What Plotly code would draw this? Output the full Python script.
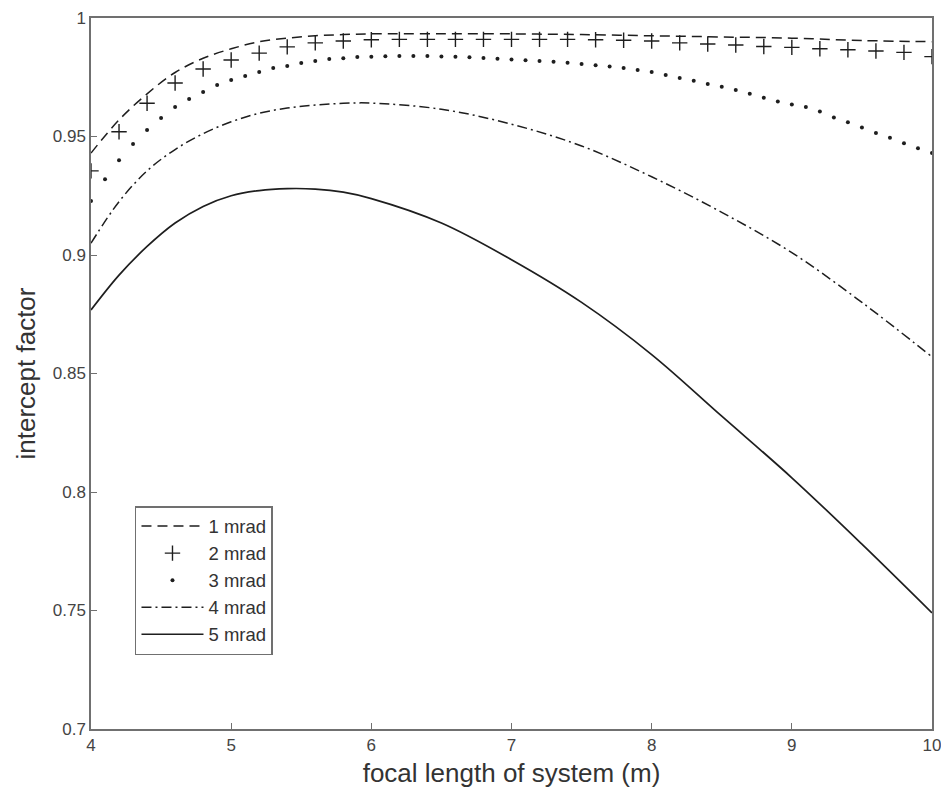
import plotly.graph_objects as go

# ---- data ----
x_line = [4.0, 4.2, 4.4, 4.6, 4.8, 5.0, 5.2, 5.4, 5.6, 5.8, 6.0, 6.5, 7.0, 7.5, 8.0, 8.5, 9.0, 9.5, 10.0]
y_1mrad = [0.943, 0.957, 0.968, 0.977, 0.983, 0.987, 0.990, 0.9915, 0.9925, 0.993, 0.9933,
           0.9934, 0.9933, 0.993, 0.9925, 0.992, 0.9915, 0.9905, 0.990]

x_plus = [4.0, 4.2, 4.4, 4.6, 4.8, 5.0, 5.2, 5.4, 5.6, 5.8, 6.0, 6.2, 6.4, 6.6, 6.8, 7.0,
          7.2, 7.4, 7.6, 7.8, 8.0, 8.2, 8.4, 8.6, 8.8, 9.0, 9.2, 9.4, 9.6, 9.8, 10.0]
y_2mrad = [0.9355, 0.952, 0.964, 0.9726, 0.9785, 0.9823, 0.9852, 0.9878, 0.9895, 0.9903,
           0.9908, 0.991, 0.991, 0.991, 0.991, 0.991, 0.991, 0.991, 0.9908, 0.9906, 0.9903,
           0.9895, 0.989, 0.9886, 0.988, 0.9876, 0.987, 0.9866, 0.9861, 0.9855, 0.9837]

x_dot = [4.0, 4.1, 4.2, 4.3, 4.4, 4.5, 4.6, 4.7, 4.8, 4.9, 5.0, 5.1, 5.2, 5.3, 5.4, 5.5, 5.6,
         5.7, 5.8, 5.9, 6.0, 6.1, 6.2, 6.3, 6.4, 6.5, 6.6, 6.7, 6.8, 6.9, 7.0, 7.1, 7.2, 7.3,
         7.4, 7.5, 7.6, 7.7, 7.8, 7.9, 8.0, 8.1, 8.2, 8.3, 8.4, 8.5, 8.6, 8.7, 8.8, 8.9, 9.0,
         9.1, 9.2, 9.3, 9.4, 9.5, 9.6, 9.7, 9.8, 9.9, 10.0]
y_3mrad = [0.9228, 0.932, 0.940, 0.9468, 0.9527, 0.9578, 0.9624, 0.9658, 0.9688, 0.9717,
           0.9738, 0.9755, 0.9772, 0.9789, 0.9797, 0.981, 0.9819, 0.9827, 0.983, 0.9835,
           0.9837, 0.9839, 0.984, 0.984, 0.984, 0.9838, 0.9836, 0.9834, 0.9831, 0.9828,
           0.9825, 0.9822, 0.9819, 0.9815, 0.9811, 0.9806, 0.9801, 0.9795, 0.9789, 0.9781,
           0.9772, 0.976, 0.9747, 0.9735, 0.9722, 0.971, 0.9696, 0.968, 0.9664, 0.9648,
           0.9635, 0.9624, 0.9605, 0.958, 0.956, 0.9538, 0.9515, 0.9495, 0.9472, 0.945, 0.943]

y_4mrad = [0.905, 0.9225, 0.9355, 0.9445, 0.9512, 0.9562, 0.9598, 0.962, 0.9633, 0.964,
           0.9641, 0.9615, 0.9552, 0.946, 0.933, 0.918, 0.901, 0.880, 0.857]

y_5mrad = [0.8768, 0.8915, 0.9036, 0.9135, 0.9205, 0.925, 0.9272, 0.928, 0.9278, 0.9265,
           0.9238, 0.9135, 0.898, 0.880, 0.858, 0.832, 0.806, 0.778, 0.749]

x_ticks = [4, 5, 6, 7, 8, 9, 10]
y_ticks = [0.7, 0.75, 0.8, 0.85, 0.9, 0.95, 1.0]
y_tick_labels = ["0.7", "0.75", "0.8", "0.85", "0.9", "0.95", "1"]

ink = "#1e1e1e"
font_family = "Liberation Sans, Arial"
fig = go.Figure()
fig.add_trace(go.Scatter(x=x_line, y=y_1mrad, mode="lines", name="1 mrad", line_shape="spline",
                         line=dict(color=ink, width=1.5, dash="10px,6px")))
fig.add_trace(go.Scatter(x=x_plus, y=y_2mrad, mode="markers", name="2 mrad",
                         marker=dict(symbol="cross-thin-open", size=11,
                                     line=dict(color=ink, width=1.4), color=ink)))
fig.add_trace(go.Scatter(x=x_dot, y=y_3mrad, mode="markers", name="3 mrad",
                         marker=dict(symbol="circle", size=4, color=ink)))
fig.add_trace(go.Scatter(x=x_line, y=y_4mrad, mode="lines", name="4 mrad", line_shape="spline",
                         line=dict(color=ink, width=1.5, dash="10px,4px,2px,4px")))
fig.add_trace(go.Scatter(x=x_line, y=y_5mrad, mode="lines", name="5 mrad", line_shape="spline",
                         line=dict(color=ink, width=1.7)))

axis_common = dict(showline=True, linecolor="#707070", linewidth=1.5, mirror=True,
                   showgrid=False, zeroline=False, ticks="inside", ticklen=6,
                   tickcolor="#707070", tickwidth=1.2, automargin=False,
                   tickfont=dict(family=font_family, size=17, color="#444"))

fig.update_layout(
    width=949, height=789,
    margin=dict(l=83, r=25, t=10, b=68),
    paper_bgcolor="white", plot_bgcolor="white",
    xaxis=dict(range=[4, 10], tickvals=x_ticks,
               title=dict(text="focal length of system (m)", standoff=10,
                          font=dict(family=font_family, size=26, color="#333")),
               **axis_common),
    yaxis=dict(range=[0.7, 1.0], tickvals=y_ticks, ticktext=y_tick_labels,
               title=dict(text="intercept factor", standoff=10,
                          font=dict(family=font_family, size=26, color="#333")),
               **axis_common),
    legend=dict(x=0.0523, y=0.3136, xanchor="left", yanchor="top",
                bordercolor="#707070", borderwidth=1.5, bgcolor="white",
                font=dict(family=font_family, size=18.5, color="#333"),
                tracegroupgap=0, itemwidth=62),
    showlegend=True,
)

fig.write_html("out.html")
